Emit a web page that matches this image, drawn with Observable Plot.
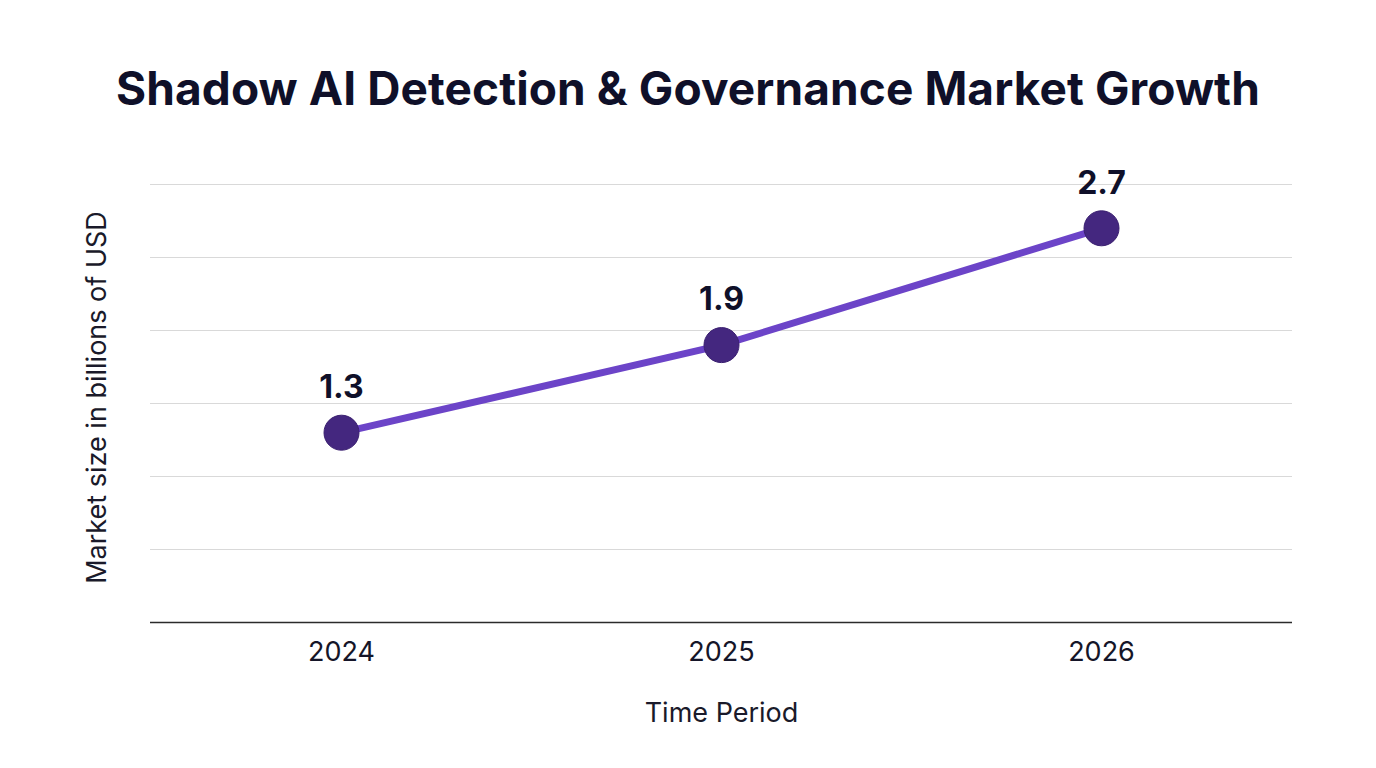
<!DOCTYPE html>
<html>
<head>
<meta charset="utf-8">
<script src="https://cdn.jsdelivr.net/npm/d3@7"></script>
<script src="https://cdn.jsdelivr.net/npm/@observablehq/plot@0.6"></script>
<style>
  html, body { margin: 0; padding: 0; background: #fff; }
  body { width: 1376px; height: 768px; overflow: hidden; font-family: Inter, "Noto Sans", sans-serif; }
  #title { position: absolute; left: 0; top: 0; width: 1376px; height: 130px; display: flex; align-items: center; justify-content: center; padding-top: 46px; box-sizing: border-box; line-height: 1;
    font-size: 46px; font-weight: 700; color: #0f1029; letter-spacing: 0.1px; }
  #chart { position: absolute; left: 0; top: 130px; }
</style>
</head>
<body>
<div id="title">Shadow AI Detection &amp; Governance Market Growth</div>
<div id="chart"></div>
<script>
const years = ["2024", "2025", "2026"];
const marketSize = [1.3, 1.9, 2.7];
const yTicks = [0, 0.5, 1, 1.5, 2, 2.5, 3];

const data = years.map((year, i) => ({year, value: marketSize[i]}));

const chart = Plot.plot({
  width: 1376,
  height: 638,
  marginTop: 54,
  marginBottom: 146,
  marginLeft: 150,
  marginRight: 84,
  style: {fontFamily: "Inter, 'Noto Sans', sans-serif", background: "#fff"},
  x: {type: "point", domain: years, padding: 0.5},
  y: {domain: [0, 3], axis: null},
  marks: [
    Plot.ruleY(yTicks.filter(d => d > 0), {stroke: "#d9d9d9", strokeWidth: 1.2}),
    Plot.ruleY([0], {stroke: "#2b2b2b", strokeWidth: 1.5}),
    Plot.axisX({tickSize: 0, tickPadding: 19, fontSize: 27, fill: "#151528", label: null}),
    Plot.line(data, {x: "year", y: "value", stroke: "#6c44c8", strokeWidth: 7}),
    Plot.dot(data, {x: "year", y: "value", r: 17.5, fill: "#44277f", stroke: "#3a1f70", strokeWidth: 1}),
    Plot.text(data, {x: "year", y: "value", text: d => d.value.toFixed(1), dy: -45, fontSize: 32, fontWeight: 700, fill: "#0f1029"}),
    Plot.text(["Time Period"], {frameAnchor: "bottom", dy: 99, fontSize: 27, fill: "#1a1a2a"}),
    Plot.text(["Market size in billions of USD"], {frameAnchor: "left", textAnchor: "middle", dx: -53, dy: -6, rotate: -90, fontSize: 27, fill: "#1a1a2a"})
  ]
});
document.getElementById("chart").appendChild(chart);
</script>
</body>
</html>
